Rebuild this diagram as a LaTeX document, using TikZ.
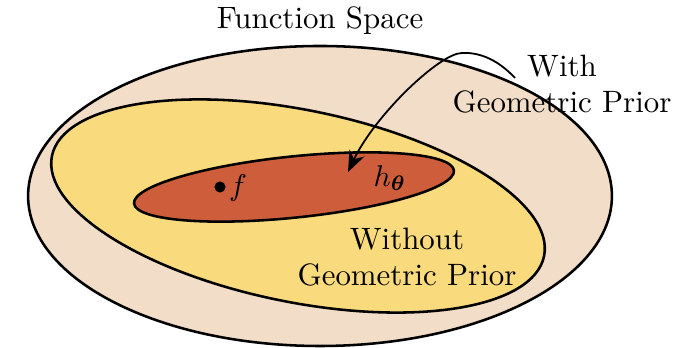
\documentclass[tikz,border=0pt]{standalone}
\usepackage{amsmath,bm}
\usetikzlibrary{arrows.meta}
\definecolor{peach}{RGB}{242,222,200}
\definecolor{sand}{RGB}{249,219,126}
\definecolor{rust}{RGB}{206,93,59}
\begin{document}
\begin{tikzpicture}[x=0.33333pt,y=-0.33333pt,
  region/.style={draw=black,line width=0.85pt},
  lbl/.style={inner sep=0pt,align=center,font=\fontsize{10.3}{12.2}\selectfont}]
\useasboundingbox (0,0) rectangle (684,348);
% outer region
\draw[region,fill=peach] (320,196) ellipse [x radius=97.3pt,y radius=50pt];
% yellow region
\draw[region,fill=sand,rotate around={-11.5:(298,206)}] (298,206) ellipse [x radius=83.7pt,y radius=32pt];
% red region
\draw[region,fill=rust,rotate around={5.9:(294,187)}] (294,187) ellipse [x radius=53.6pt,y radius=10.2pt];
% labels
\node[lbl] (fs) at (320,21) {Function Space};
\node[lbl] (with) at (562,84) {With\\Geometric Prior};
\node[lbl] (without) at (407,257) {Without\\Geometric Prior};
\node[lbl] (h) at (390,178) {$h_{\bm{\theta}}$};
\fill (220,187) circle[radius=1.85pt] coordinate (dot);
\node[lbl] (f) at (238,188) {$f$};
% arrow
\coordinate (as) at (515,78);
\coordinate (ap) at (462,53);
\coordinate (ae) at (348,172);
\draw[line width=0.6pt,-{Stealth[length=7pt,width=5.5pt]}] (as) .. controls (500,62) and (482,52) .. (ap) .. controls (440,53) and (375,115) .. (ae);
\end{tikzpicture}
\end{document}
